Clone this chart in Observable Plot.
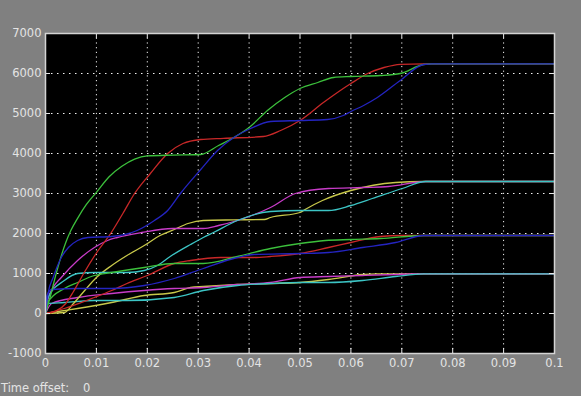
<!DOCTYPE html>
<html>
<head>
<meta charset="utf-8">
<script src="https://cdn.jsdelivr.net/npm/d3@7"></script>
<script src="https://cdn.jsdelivr.net/npm/@observablehq/plot@0.6"></script>
<style>
  html, body { margin: 0; padding: 0; background: #808080; overflow: hidden; }
  #chart svg { display: block; }
  #caption { position: relative; height: 20px; background: #808080; color: #e4e4e4;
             font-family: "DejaVu Sans", sans-serif; font-size: 11.5px; }
  #caption span { position: absolute; top: 5px; white-space: pre; }
</style>
</head>
<body>
<div id="chart"></div>
<div id="caption"><span style="left:1px">Time offset:</span><span style="left:83px">0</span></div>
<script>
// tick values
const xTicks = [0, 0.01, 0.02, 0.03, 0.04, 0.05, 0.06, 0.07, 0.08, 0.09, 0.1];
const yTicks = [-1000, 0, 1000, 2000, 3000, 4000, 5000, 6000, 7000];

// Group converging at ~6240
const redA = [[0,0],[0.002,60],[0.004,250],[0.0055,550],[0.0075,1000],[0.0102,1550],[0.0128,2000],[0.0152,2500],[0.0175,3000],[0.0206,3500],[0.024,4000],[0.027,4250],[0.0305,4350],[0.035,4380],[0.0428,4425],[0.0462,4575],[0.05,4825],[0.0546,5275],[0.06,5750],[0.0633,6000],[0.0665,6150],[0.0697,6230],[0.0743,6240],[0.1,6240]];
const greenA = [[0,0],[0.001,450],[0.002,950],[0.003,1400],[0.004,1780],[0.005,2080],[0.0063,2380],[0.008,2720],[0.01,3030],[0.0125,3420],[0.015,3680],[0.0175,3860],[0.02,3940],[0.025,3960],[0.0305,3975],[0.034,4200],[0.037,4400],[0.04,4650],[0.0436,5075],[0.047,5400],[0.05,5625],[0.0535,5775],[0.0566,5900],[0.06,5925],[0.0658,5950],[0.0697,6000],[0.0743,6225],[0.076,6240],[0.1,6240]];
const blueA = [[0,0],[0.0005,500],[0.0015,900],[0.0031,1400],[0.0045,1650],[0.0063,1825],[0.0083,1900],[0.013,1925],[0.018,2075],[0.0214,2325],[0.024,2575],[0.0265,3000],[0.0305,3600],[0.0338,4075],[0.037,4400],[0.0403,4625],[0.0442,4800],[0.05,4825],[0.0554,4850],[0.0585,4950],[0.06,5050],[0.0625,5200],[0.0652,5400],[0.0697,5825],[0.0743,6225],[0.076,6240],[0.1,6240]];

// Group converging at ~3300
const yellowB = [[0,0],[0.0037,25],[0.0055,250],[0.0077,575],[0.01,900],[0.013,1200],[0.016,1450],[0.0194,1700],[0.0225,1950],[0.0253,2100],[0.028,2250],[0.031,2325],[0.037,2340],[0.043,2350],[0.0442,2400],[0.05,2525],[0.051,2600],[0.0544,2825],[0.06,3075],[0.0688,3275],[0.0743,3300],[0.1,3300]];
const magentaB = [[0,0],[0.0004,325],[0.0015,650],[0.0031,900],[0.0063,1325],[0.0096,1650],[0.0122,1825],[0.0141,1900],[0.0189,2025],[0.025,2125],[0.031,2125],[0.034,2200],[0.0377,2325],[0.0442,2650],[0.0491,3000],[0.0556,3125],[0.0623,3150],[0.0674,3175],[0.0747,3300],[0.1,3300]];
const cyanB = [[0,0],[0.0005,400],[0.0037,825],[0.0063,1000],[0.0096,1025],[0.016,1025],[0.0194,1075],[0.022,1200],[0.0245,1425],[0.0285,1725],[0.031,1900],[0.033,2025],[0.0377,2325],[0.0442,2550],[0.05,2575],[0.0556,2575],[0.06,2700],[0.0642,2875],[0.0701,3125],[0.0747,3300],[0.1,3300]];

// Group converging at ~1950
const redC = [[0,0],[0.0037,125],[0.0096,400],[0.013,575],[0.016,750],[0.02,950],[0.0253,1250],[0.0285,1325],[0.0344,1400],[0.0409,1400],[0.0442,1425],[0.05,1500],[0.0556,1650],[0.06,1775],[0.0658,1925],[0.07,1950],[0.1,1950]];
const greenC = [[0,0],[0.0004,275],[0.0037,625],[0.0063,775],[0.0096,950],[0.013,1025],[0.0194,1150],[0.0253,1250],[0.031,1250],[0.0377,1425],[0.0442,1625],[0.05,1750],[0.055,1825],[0.06,1850],[0.0658,1875],[0.0743,1950],[0.1,1950]];
const blueC = [[0,0],[0.0003,450],[0.0012,600],[0.0063,625],[0.013,625],[0.0194,700],[0.0253,875],[0.031,1125],[0.0377,1400],[0.0409,1475],[0.05,1500],[0.0556,1525],[0.0623,1650],[0.0688,1775],[0.0743,1950],[0.1,1950]];

// Group converging at ~990
const yellowD = [[0,0],[0.0024,50],[0.0063,125],[0.013,275],[0.0194,450],[0.0253,525],[0.0285,650],[0.031,675],[0.0377,725],[0.0442,750],[0.05,775],[0.0556,850],[0.0623,975],[0.065,990],[0.1,990]];
const magentaD = [[0,0],[0.0012,250],[0.0063,400],[0.013,500],[0.0194,575],[0.0253,625],[0.031,650],[0.0377,725],[0.0442,775],[0.05,900],[0.0556,925],[0.0623,950],[0.0688,975],[0.072,990],[0.1,990]];
const cyanD = [[0,0],[0.0003,250],[0.0037,275],[0.0096,325],[0.016,325],[0.0253,400],[0.031,575],[0.0377,700],[0.0442,750],[0.05,775],[0.0556,775],[0.0623,825],[0.0688,925],[0.0743,990],[0.1,990]];

const colors = { yellow: "#c8c84a", magenta: "#c83cc8", cyan: "#3cc4c4", red: "#c82828", green: "#3cc03c", blue: "#2424c0" };

const seriesList = [
  [yellowD, colors.yellow], [magentaD, colors.magenta], [cyanD, colors.cyan],
  [yellowB, colors.yellow], [magentaB, colors.magenta], [cyanB, colors.cyan],
  [redC, colors.red], [greenC, colors.green], [blueC, colors.blue],
  [redA, colors.red], [greenA, colors.green], [blueA, colors.blue]
];

const W = 581, H = 376, mL = 45, mR = 27, mT = 33, mB = 23;
const fw = W - mL - mR, fh = H - mT - mB;
const tickCol = "#e8e8e8";

const chart = Plot.plot({
  width: W, height: H,
  marginLeft: mL, marginRight: mR, marginTop: mT, marginBottom: mB,
  style: { background: "#808080", color: "#e4e4e4", fontFamily: "DejaVu Sans, sans-serif", fontSize: "11.5px" },
  x: { domain: [0, 0.1], label: null },
  y: { domain: [-1000, 7000], label: null },
  marks: [
    Plot.frame({ fill: "black" }),
    Plot.gridX(xTicks, { stroke: "white", strokeOpacity: 0.95, strokeDasharray: "1.2,3.5" }),
    Plot.gridY(yTicks, { stroke: "white", strokeOpacity: 0.95, strokeDasharray: "1.5,4.5" }),
    ...seriesList.map(([pts, c]) => Plot.line(pts, { x: d => d[0], y: d => d[1], stroke: c, strokeWidth: 1.3, curve: "monotone-x" })),
    Plot.tickX(xTicks, { x: d => d, insetTop: fh - 5, stroke: tickCol }),
    Plot.tickX(xTicks, { x: d => d, insetBottom: fh - 5, stroke: tickCol }),
    Plot.tickY(yTicks, { y: d => d, insetLeft: fw - 5, stroke: tickCol }),
    Plot.tickY(yTicks, { y: d => d, insetRight: fw - 5, stroke: tickCol }),
    Plot.frame({ stroke: "#d4d4d4", strokeWidth: 1.5 }),
    Plot.axisX(xTicks, { tickSize: 0, tickPadding: 5, tickFormat: d => String(d) }),
    Plot.axisY(yTicks, { tickSize: 0, tickPadding: 4, tickFormat: d => String(d) })
  ]
});
document.getElementById("chart").appendChild(chart);
</script>
</body>
</html>
